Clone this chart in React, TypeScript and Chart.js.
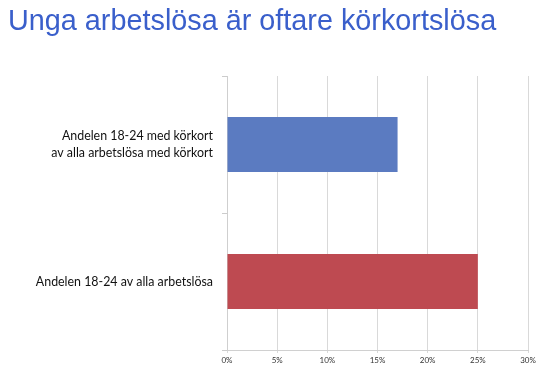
import React, { useEffect, useRef } from "react";
import { Chart, registerables } from "chart.js";

Chart.register(...registerables);

const title = "Unga arbetslösa är oftare körkortslösa";
const categories: (string | string[])[] = [
  ["Andelen 18-24 med körkort", "av alla arbetslösa med körkort"],
  "Andelen 18-24 av alla arbetslösa",
];
const values = [17, 25];
const barColors = ["#5b7bc1", "#be4a51"];
const xTicks = [0, 5, 10, 15, 20, 25, 30];

export default function App() {
  const ref = useRef<HTMLCanvasElement | null>(null);

  useEffect(() => {
    document.body.style.margin = "0";
    const canvas = ref.current;
    if (!canvas) return;
    const chart = new Chart(canvas, {
      type: "bar",
      data: {
        labels: categories,
        datasets: [
          {
            data: values,
            backgroundColor: barColors,
            borderWidth: 0,
            categoryPercentage: 1,
            barPercentage: 0.4,
          },
        ],
      },
      options: {
        indexAxis: "y",
        responsive: false,
        animation: false,
        layout: { padding: { left: 8, right: 22, top: 0, bottom: 0 } },
        plugins: {
          legend: { display: false },
          tooltip: { enabled: false },
          title: {
            display: true,
            text: title,
            align: "start",
            color: "#3a5fcb",
            font: { family: "'Liberation Sans', Arial, sans-serif", size: 28.8, weight: "normal", lineHeight: 1.25 },
            padding: { top: 4, bottom: 36 },
          },
        },
        scales: {
          x: {
            min: 0,
            max: 30,
            afterFit: (s: any) => {
              s.height = 31;
            },
            afterBuildTicks: (s: any) => {
              s.ticks = xTicks.map((v) => ({ value: v }));
            },
            grid: { color: "#d9d9d9", lineWidth: 1, tickLength: 3 },
            border: { color: "#d0d0d0" },
            ticks: {
              padding: 3,
              color: "#333333",
              font: { family: "Lato, 'Liberation Sans', sans-serif", size: 8 },
              callback: (v: any) => v + "%",
            },
          },
          y: {
            afterFit: (s: any) => {
              s.width = 219;
            },
            grid: { display: true, drawOnChartArea: false, offset: true, tickLength: 5, color: "#cccccc" },
            border: { color: "#cfcfcf" },
            ticks: {
              padding: 9,
              color: "#111111",
              font: { family: "Lato, 'Liberation Sans', sans-serif", size: 12.4, lineHeight: 1.3 },
            },
          },
        },
      },
    });
    return () => chart.destroy();
  }, []);

  return (
    <div style={{ width: 550, height: 381, background: "#ffffff" }}>
      <canvas ref={ref} width={550} height={381} />
    </div>
  );
}
